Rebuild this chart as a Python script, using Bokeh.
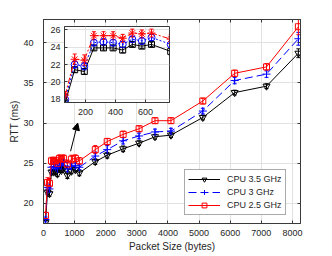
from bokeh.plotting import figure
from bokeh.models import (Range1d, FixedTicker, Whisker, TeeHead, ColumnDataSource,
                          Legend, LegendItem, Arrow, NormalHead, GridBox, LinearAxis)
from bokeh.embed import file_html
from bokeh.resources import INLINE

# ---------------- data ----------------
packet = [64, 128, 192, 256, 320, 384, 448, 512, 576, 640, 768, 896, 1024, 1152,
          1664, 2048, 2560, 3072, 3584, 4096, 5120, 6144, 7168, 8192]
rtt_35 = [17.6, 21.4, 21.2, 23.9, 23.9, 23.9, 23.65, 24.3, 24.1, 24.3, 23.5, 24.0, 24.2, 23.8,
          25.2, 26.0, 26.8, 27.5, 28.3, 28.5, 30.7, 33.8, 34.6, 38.7]
err_35 = [0.25, 0.3, 0.3, 0.25, 0.25, 0.25, 0.3, 0.25, 0.25, 0.25, 0.4, 0.3, 0.3, 0.35,
          0.35, 0.35, 0.35, 0.3, 0.3, 0.3, 0.3, 0.3, 0.3, 0.55]
rtt_3 = [18.0, 22.0, 21.8, 24.5, 24.6, 24.5, 24.3, 24.9, 24.7, 25.1, 24.3, 24.6, 24.7, 24.5,
         25.9, 26.7, 27.8, 28.4, 28.9, 29.0, 31.5, 35.3, 36.1, 40.5]
err_3 = [0.3, 0.4, 0.4, 0.35, 0.3, 0.35, 0.35, 0.3, 0.35, 0.35, 0.35, 0.3, 0.3, 0.3,
         0.5, 0.5, 0.4, 0.35, 0.35, 0.35, 0.35, 0.4, 0.4, 0.8]
rtt_25 = [18.5, 22.6, 22.5, 25.3, 25.3, 25.3, 25.0, 25.6, 25.5, 25.6, 24.9, 25.5, 25.6, 25.3,
          26.7, 27.7, 28.6, 29.3, 30.3, 30.3, 32.75, 36.2, 37.0, 42.0]
err_25 = [0.4, 0.6, 0.6, 0.45, 0.45, 0.45, 0.45, 0.45, 0.45, 0.45, 0.5, 0.5, 0.45, 0.4,
          0.5, 0.4, 0.4, 0.35, 0.35, 0.35, 0.35, 0.4, 0.4, 1.0]
labels = ["CPU 3.5 GHz", "CPU 3 GHz", "CPU 2.5 GHz"]

x_ticks = [0, 1000, 2000, 3000, 4000, 5000, 6000, 7000, 8000]
y_ticks = [20, 25, 30, 35, 40]
inset_x_ticks = [200, 400, 600]
inset_y_ticks = [18, 20, 22, 24, 26]
arrow_from = (870, 26.5)
arrow_to = (1100, 30.0)

FONT = "Liberation Sans"
AX = "#3a3a3a"
GRID = "#e2e2e2"
TXT = "#262626"


def style(fig, xt, yt, fs, sx, sy):
    fig.xaxis.ticker = FixedTicker(ticks=xt)
    fig.yaxis.ticker = FixedTicker(ticks=yt)
    for ax in (fig.xaxis, fig.yaxis):
        ax.major_tick_in = 3
        ax.major_tick_out = 0
        ax.minor_tick_in = 0
        ax.minor_tick_out = 0
        ax.axis_line_color = AX
        ax.major_tick_line_color = AX
        ax.major_label_text_font = FONT
        ax.major_label_text_font_size = fs
        ax.major_label_text_color = TXT
    fig.xaxis.major_label_standoff = sx
    fig.yaxis.major_label_standoff = sy
    fig.xgrid.ticker = FixedTicker(ticks=xt)
    fig.ygrid.ticker = FixedTicker(ticks=yt)
    fig.grid.grid_line_color = GRID
    fig.grid.grid_line_width = 1
    fig.outline_line_color = AX
    fig.outline_line_alpha = 1


def tick_only_axis(ticks):
    return LinearAxis(ticker=FixedTicker(ticks=ticks),
                      major_label_overrides={t: "" for t in ticks},
                      major_label_standoff=0, major_tick_in=3, major_tick_out=0,
                      minor_tick_in=0, minor_tick_out=0,
                      axis_line_color=AX, major_tick_line_color=AX)


def add_err(fig, ys, es, color):
    src = ColumnDataSource(dict(x=packet,
                                lo=[y - e for y, e in zip(ys, es)],
                                hi=[y + e for y, e in zip(ys, es)]))
    fig.add_layout(Whisker(source=src, base="x", lower="lo", upper="hi",
                           line_color=color, line_width=1,
                           lower_head=TeeHead(size=4, line_color=color, line_width=1),
                           upper_head=TeeHead(size=4, line_color=color, line_width=1)))


# ---------------- main ----------------
p = figure(width=332, height=256, x_range=Range1d(0, 8260), y_range=Range1d(17.5, 42.9),
           output_backend="svg", toolbar_location=None,
           min_border_left=43, min_border_right=32, min_border_top=19, min_border_bottom=33,
           background_fill_color="white", border_fill_color="white")
style(p, x_ticks, y_ticks, "9px", 6, 10)
p.add_layout(tick_only_axis(x_ticks), "above")
p.add_layout(tick_only_axis(y_ticks), "right")
p.xaxis.axis_label = None
p.below[0].axis_label = "Packet Size (bytes)"
p.left[0].axis_label = "RTT (ms)"
for ax in (p.below[0], p.left[0]):
    ax.axis_label_text_font = FONT
    ax.axis_label_text_font_size = "10px"
    ax.axis_label_text_font_style = "normal"
    ax.axis_label_text_color = TXT
p.below[0].axis_label_standoff = 2
p.left[0].axis_label_standoff = 0

series = [
    (rtt_35, err_35, "black", "solid", "inverted_triangle", 7),
    (rtt_3, err_3, "blue", "8 4", "cross", 8),
    (rtt_25, err_25, "red", "solid", "square", 6),
]
items = []
for (ys, es, c, dash, mk, sz), lab in zip(series, labels):
    add_err(p, ys, es, c)
    ln = p.line(packet, ys, line_color=c, line_width=1, line_dash=dash)
    mr = p.scatter(packet, ys, marker=mk, size=sz, line_color=c, fill_color=None, line_width=1)
    items.append(LegendItem(label=lab, renderers=[ln, mr]))

legend = Legend(items=items, location=(141, 8), padding=3, spacing=1, margin=0,
                glyph_width=32, glyph_height=12, label_height=12, label_standoff=7,
                label_text_font=FONT, label_text_font_size="9px", label_text_color=TXT,
                border_line_color="#555555", border_line_width=1,
                background_fill_color="white", background_fill_alpha=1)
p.add_layout(legend)

p.add_layout(Arrow(end=NormalHead(size=7, fill_color="black", line_color="black"),
                   x_start=arrow_from[0], y_start=arrow_from[1],
                   x_end=arrow_to[0], y_end=arrow_to[1],
                   line_color="black", line_width=1))

# ---------------- inset ----------------
inset = figure(width=129, height=96, x_range=Range1d(60, 760), y_range=Range1d(17.65, 26.35),
               output_backend="svg", toolbar_location=None,
               min_border_left=20, min_border_right=4, min_border_top=2, min_border_bottom=18,
               background_fill_color="white", border_fill_alpha=0)
style(inset, inset_x_ticks, inset_y_ticks, "9px", 6, 4)

inset_series = [
    (rtt_35, err_35, "black", "solid", "square", 6),
    (rtt_3, err_3, "blue", "2 2", "circle", 7),
    (rtt_25, err_25, "red", "6 2 2 2", "asterisk", 8),
]
for ys, es, c, dash, mk, sz in inset_series:
    add_err(inset, ys, es, c)
    inset.line(packet, ys, line_color=c, line_width=1, line_dash=dash)
    inset.scatter(packet, ys, marker=mk, size=sz, line_color=c, fill_color=None, line_width=1)

# overlap the inset on the main chart with a CSS grid
layout = GridBox(children=[(p, 0, 0, 3, 3), (inset, 1, 1, 1, 1)],
                 rows=["24px", "96px", "136px"], cols=["44px", "129px", "159px"],
                 spacing=0)
open("out.html", "w").write(file_html(layout, INLINE))
